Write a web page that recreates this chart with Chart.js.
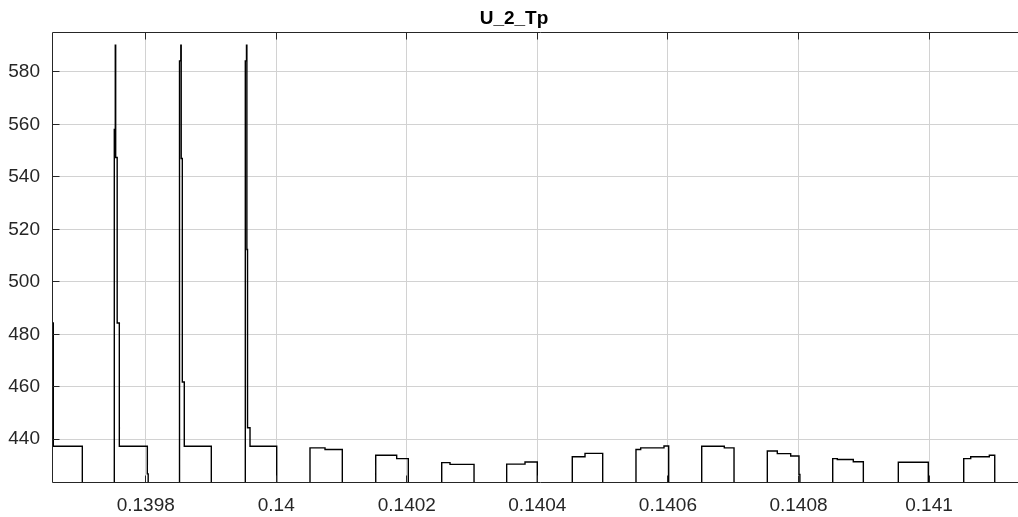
<!DOCTYPE html>
<html>
<head>
<meta charset="utf-8">
<script src="https://cdn.jsdelivr.net/npm/chart.js@4.4.1/dist/chart.umd.min.js"></script>
<style>
  html, body { margin: 0; padding: 0; background: #ffffff; overflow: hidden; width: 1018px; height: 517px; }
  #wrap { position: absolute; left: 0; top: 0; width: 1080px; height: 517px; }
</style>
</head>
<body>
<div id="wrap"><canvas id="c" width="1080" height="517"></canvas></div>
<script>
// ---- data ----
const chartTitle = 'U_2_Tp';

// change points of the stepped signal: time [s]
const timeS = [
  0.1396500, 0.1396584, 0.1397029,
  0.1397519, 0.1397534, 0.1397540, 0.1397563, 0.1397596, 0.1398025, 0.1398038,
  0.1398518, 0.1398538, 0.1398544, 0.1398561, 0.1398591, 0.1399005,
  0.1399526, 0.1399544, 0.1399550, 0.1399560, 0.1399598, 0.1400007,
  0.1400517, 0.1400747, 0.1401012,
  0.1401524, 0.1401845, 0.1402023,
  0.1402535, 0.1402662, 0.1403030,
  0.1403530, 0.1403811, 0.1403999,
  0.1404535, 0.1404730, 0.1405001,
  0.1405511, 0.1405583, 0.1405940, 0.1406012,
  0.1406518, 0.1406864, 0.1407013,
  0.1407523, 0.1407676, 0.1407881, 0.1408008, 0.1408022,
  0.1408525, 0.1408595, 0.1408840, 0.1408994,
  0.1409530, 0.1409989,
  0.1410532, 0.1410639, 0.1410924, 0.1411007,
  0.1411600
];
// value held from each change point [V]
const voltage = [
  484.3, 437.3, 0,
  558.1, 590.2, 547.4, 484.3, 437.3, 426.8, 0,
  584.2, 590.2, 547.0, 461.8, 437.3, 0,
  584.2, 590.2, 512.3, 444.4, 437.3, 0,
  436.7, 436.1, 0,
  433.9, 432.6, 0,
  431.1, 430.4, 0,
  430.5, 431.3, 0,
  433.3, 434.6, 0,
  436.1, 436.7, 437.4, 0,
  437.3, 436.7, 0,
  435.5, 434.5, 433.6, 426.6, 0,
  432.6, 432.3, 431.4, 0,
  431.2, 0,
  432.6, 433.3, 433.9, 0,
  0
];

const xTicks = [0.1398, 0.14, 0.1402, 0.1404, 0.1406, 0.1408, 0.141];
const xTickLabels = ['0.1398', '0.14', '0.1402', '0.1404', '0.1406', '0.1408', '0.141'];
const yTicks = [440, 460, 480, 500, 520, 540, 560, 580];
const xLimits = [0.13965645, 0.14115166];
const yLimits = [423.7, 594.9];

// ---- drawing ----
const FONT = '"Liberation Sans", Arial, Helvetica, sans-serif';
const AXIS = '#262626';
const GRID = '#d2d2d2';

const points = timeS.map((t, i) => ({ x: t, y: voltage[i] }));

const framePlugin = {
  id: 'matlabFrame',
  afterDatasetsDraw(chart) {
    const { ctx, chartArea: a, scales } = chart;
    const xs = scales.x, ys = scales.y;
    const al = v => Math.round(v - 0.5) + 0.5;
    const L = al(a.left), R = al(a.right), T = al(a.top), B = al(a.bottom);
    ctx.save();
    ctx.strokeStyle = AXIS;
    ctx.lineWidth = 1;
    ctx.beginPath();
    ctx.moveTo(R, T); ctx.lineTo(L, T); ctx.lineTo(L, B); ctx.lineTo(R, B); ctx.lineTo(R, T);
    const tl = 7;
    xs.ticks.forEach(t => {
      const px = al(xs.getPixelForValue(t.value));
      ctx.moveTo(px, B); ctx.lineTo(px, B - tl);
      ctx.moveTo(px, T); ctx.lineTo(px, T + tl);
    });
    ys.ticks.forEach(t => {
      const py = al(ys.getPixelForValue(t.value));
      ctx.moveTo(L, py); ctx.lineTo(L + tl, py);
      ctx.moveTo(R, py); ctx.lineTo(R - tl, py);
    });
    ctx.stroke();
    ctx.restore();
  }
};

new Chart(document.getElementById('c'), {
  type: 'line',
  data: {
    datasets: [{
      data: points,
      borderColor: '#000000',
      borderWidth: 1.4,
      pointRadius: 0,
      stepped: 'before',
      tension: 0,
      fill: false,
      clip: 0
    }]
  },
  options: {
    responsive: false,
    animation: false,
    events: [],
    layout: { padding: { left: 0, right: 52, top: 0, bottom: 0 } },
    plugins: {
      legend: { display: false },
      tooltip: { enabled: false },
      title: {
        display: true,
        text: chartTitle,
        color: '#000000',
        font: { family: FONT, size: 19, weight: 'bold', lineHeight: 1.2 },
        padding: { top: 7, bottom: 3 }
      }
    },
    scales: {
      x: {
        type: 'linear',
        min: xLimits[0],
        max: xLimits[1],
        afterBuildTicks: s => { s.ticks = xTicks.map(v => ({ value: v })); },
        afterFit: s => { s.height = 35; },
        grid: { color: GRID, lineWidth: 1, drawTicks: false },
        border: { display: false },
        ticks: {
          autoSkip: false,
          maxRotation: 0,
          color: AXIS,
          padding: 12,
          font: { family: FONT, size: 19 },
          callback: (v, i) => xTickLabels[i]
        }
      },
      y: {
        type: 'linear',
        min: yLimits[0],
        max: yLimits[1],
        afterBuildTicks: s => { s.ticks = yTicks.map(v => ({ value: v })); },
        afterFit: s => { s.width = 52; },
        grid: { color: GRID, lineWidth: 1, drawTicks: false },
        border: { display: false },
        ticks: {
          autoSkip: false,
          color: AXIS,
          padding: 12,
          font: { family: FONT, size: 19 },
          callback: v => String(v)
        }
      }
    }
  },
  plugins: [framePlugin]
});
</script>
</body>
</html>
